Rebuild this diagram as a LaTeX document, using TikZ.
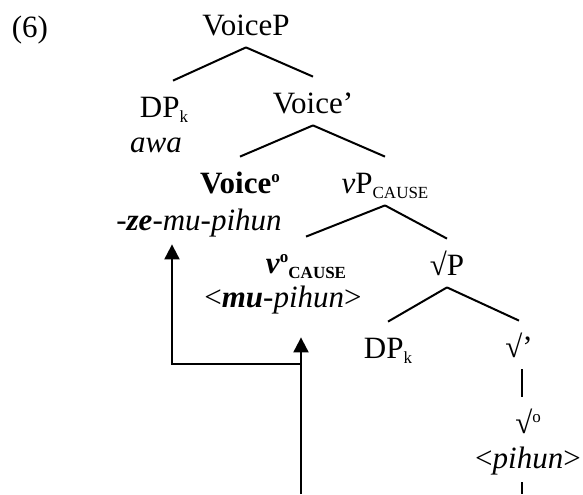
\documentclass[tikz,border=0pt]{standalone}
\usepackage{fontspec}
\setmainfont{Liberation Serif}
\usetikzlibrary{arrows.meta, positioning}

\newcommand{\lsub}[1]{\raisebox{-2.5pt}{\fontsize{8.5}{10}\selectfont #1}}
\newcommand{\lsup}[1]{\raisebox{5.5pt}{\fontsize{8.5}{10}\selectfont #1}}

\begin{document}
\begin{tikzpicture}[x=0.5pt, y=-0.5pt, font=\fontsize{15.5}{18}\selectfont,
  cat/.style={anchor=base, inner sep=0pt, text height=18pt, text depth=6pt},
  word/.style={anchor=base, inner sep=0pt, text depth=7pt, font=\fontsize{15.5}{18}\selectfont\itshape},
  branch/.style={line width=1pt},
  movement/.style={line width=1pt, -{Triangle[width=7.5pt, length=7.5pt]}}]
  \useasboundingbox (0,0) rectangle (583,494);

  %Define nodes
  \node[anchor=base] (ex6) at (30,37) {(6)};
  \node[cat] (voicep) at (246,35) {VoiceP};
  \node[cat] (dpk) at (164,117) {DP\lsub{k}};
  \node[word] (awa) at (156,152) {awa};
  \node[cat] (voicebar) at (313,113) {Voice’};
  \node[cat] (voice0) at (240,193) {\textbf{Voice\lsup{o}}};
  \node[word] (zepihun) at (199,230) {-\textbf{ze}-mu-pihun};
  \node[cat] (vp) at (385,193) {\textit{v}P\lsub{CAUSE}};
  \node[cat] (v0) at (306,273) {\textbf{\textit{v}\lsup{o}\lsub{CAUSE}}};
  \node[word] (mupihun) at (283,307) {\textup{<}\textbf{mu}-pihun\textup{>}};
  \node[cat] (rootp) at (447,275) {√P};
  \node[cat] (dpk2) at (388,358) {DP\lsub{k}};
  \node[cat] (rootbar) at (519,357) {√’};
  \node[cat] (root0) at (528,433) {√\lsup{o}};
  \node[word] (pihun) at (528,468) {\textup{<}pihun\textup{>}};
  \coordinate (trace) at (301,494);
  \coordinate (fork) at (301,364);
  \coordinate (tail) at (522,494);

  % Connect the nodes
  \draw[branch] (voicep.south) -- ([xshift=4.5pt]dpk.north);
  \draw[branch] (voicep.south) -- (voicebar.north);
  \draw[branch] (voicebar.south) -- (voice0.north);
  \draw[branch] (voicebar.south) -- (vp.north);
  \draw[branch] (vp.south) -- (v0.north);
  \draw[branch] (vp.south) -- (rootp.north);
  \draw[branch] (rootp.south) -- (dpk2.north);
  \draw[branch] (rootp.south) -- (rootbar.north);
  \draw[branch] ([xshift=1.5pt]rootbar.south) -- ([xshift=1.5pt]rootbar.south |- root0.north);
  \draw[branch] (pihun.south -| tail) -- (tail);

  % Movement
  \draw[movement, shorten >=8pt] (trace) -- (trace |- mupihun.south);
  \draw[movement] (fork) -| ([xshift=-13.5pt]zepihun.south);

\end{tikzpicture}
\end{document}
